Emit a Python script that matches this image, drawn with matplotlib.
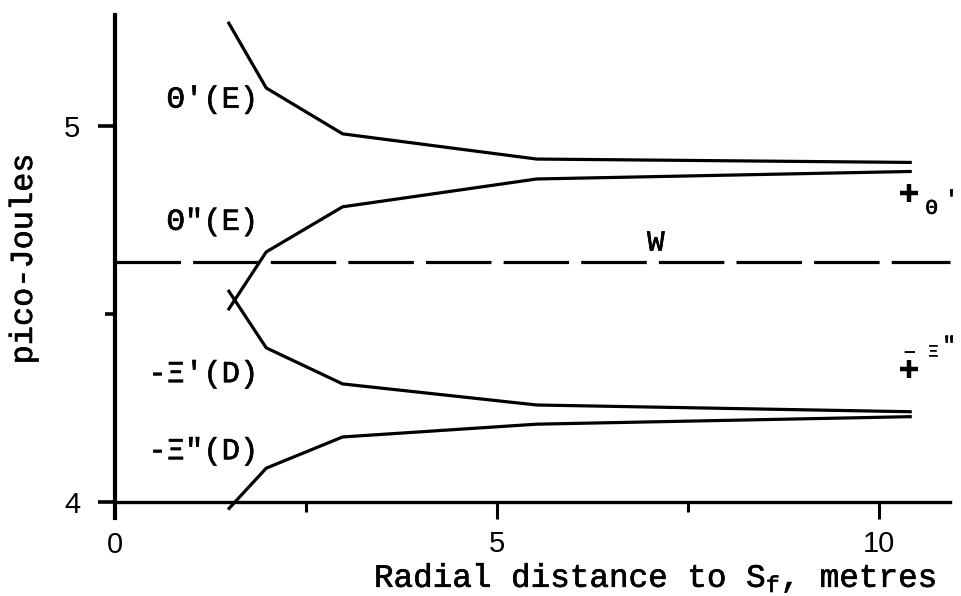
import matplotlib
matplotlib.use("Agg")
import matplotlib.pyplot as plt
import matplotlib.patheffects as pe
from matplotlib.ticker import FixedLocator

# Radial distance (metres) at which each curve was evaluated
radius = [1.48, 1.98, 2.98, 5.52, 10.43]

# Energies in pico-Joules
theta1_E = [5.277, 5.101, 4.979, 4.912, 4.903]
theta2_E = [4.510, 4.665, 4.785, 4.859, 4.879]
xi1_D = [4.564, 4.410, 4.314, 4.258, 4.240]
xi2_D = [3.980, 4.090, 4.173, 4.207, 4.227]
W_level = 4.637

# Limiting values at large radius
limit_x = 10.40
theta1_limit = 4.823
xi2_limit = 4.354

curve_labels = ["\u0398'(E)", "\u0398\"(E)", "-\u039e'(D)", "-\u039e\"(D)"]

MONO = "Liberation Mono"
SANS = "Liberation Sans"
# typewriter text a little heavier than the regular face
INK = [pe.withStroke(linewidth=0.45, foreground="black")]

plt.rcParams["mathtext.fontset"] = "custom"
plt.rcParams["mathtext.rm"] = MONO
plt.rcParams["mathtext.it"] = MONO

fig = plt.figure(figsize=(9.62, 5.96), dpi=100)
ax = fig.add_axes([0.1195, 0.1577, 0.868, 0.8171])

LW = 2.3
for series in (theta1_E, theta2_E, xi1_D, xi2_D):
    ax.plot(radius, series, color="black", lw=LW, clip_on=False,
            solid_capstyle="butt")

ax.axhline(W_level, color="black", lw=LW, dashes=(20.5, 3.8), clip_on=False)
ax.text(7.08, W_level + 0.053, "W", fontsize=21, family=MONO,
        ha="center", va="center", path_effects=INK)

# curve names on the left
label_y = [5.07, 4.745, 4.34, 4.135]
for lab, ly in zip(curve_labels, label_y):
    ax.text(1.87, ly, lab, fontsize=22, family=MONO, ha="right",
            va="center", path_effects=INK)

# limiting values marked with crosses
ax.plot([limit_x, limit_x], [theta1_limit, xi2_limit], ls="none", marker="+",
        ms=13, mew=3.2, color="black", clip_on=False)
ax.text(limit_x + 0.29, theta1_limit - 0.042, "\u0398", fontsize=15,
        family=MONO, ha="center", va="center", path_effects=INK)
ax.text(limit_x + 0.55, theta1_limit - 0.02, "'", fontsize=16,
        family=MONO, ha="center", va="center", path_effects=INK)
ax.text(limit_x, xi2_limit + 0.045, "\u2013", fontsize=15, family=SANS,
        ha="center", va="center", fontweight="bold")
ax.text(limit_x + 0.31, xi2_limit + 0.045, "\u039e", fontsize=13,
        family=MONO, ha="center", va="center", path_effects=INK)
ax.text(limit_x + 0.52, xi2_limit + 0.06, "\"", fontsize=16,
        family=MONO, ha="center", va="center", path_effects=INK)

ax.set_xlim(0, 10.93)
ax.set_ylim(4, 5.295)

for side in ("top", "right"):
    ax.spines[side].set_visible(False)
ax.spines["left"].set_linewidth(3.0)
ax.spines["bottom"].set_linewidth(2.4)
ax.spines["left"].set_bounds(3.958, 5.295)

ax.xaxis.set_major_locator(FixedLocator([5, 10]))
ax.xaxis.set_minor_locator(FixedLocator([2.5, 7.5]))
ax.yaxis.set_major_locator(FixedLocator([4, 5]))
ax.yaxis.set_minor_locator(FixedLocator([4.5]))

ax.tick_params(axis="x", which="major", direction="out", length=12, width=2.2,
               pad=8, labelsize=21)
ax.tick_params(axis="x", which="minor", direction="out", length=7, width=2.2)
ax.tick_params(axis="y", which="major", direction="out", length=12, width=2.6,
               pad=13, labelsize=21)
ax.tick_params(axis="y", which="minor", direction="out", length=7, width=2.6)
for lab in ax.get_xticklabels() + ax.get_yticklabels():
    lab.set_family(SANS)

# the origin label sits under the extended left spine
ax.text(0, -0.088, "0", transform=ax.get_xaxis_transform(), fontsize=21,
        family=SANS, ha="center", va="center")

ax.set_xlabel(r"Radial distance to S$_{\rm f}$, metres", fontsize=23.5,
              family=MONO, path_effects=INK)
ax.xaxis.set_label_coords(0.647, -0.156)
ax.xaxis.label.set_va("center")
ax.set_ylabel("pico-Joules", fontsize=23, family=MONO, path_effects=INK)
ax.yaxis.set_label_coords(-0.109, 0.5)
ax.yaxis.label.set_va("center")

fig.savefig("out.png", dpi=100)
